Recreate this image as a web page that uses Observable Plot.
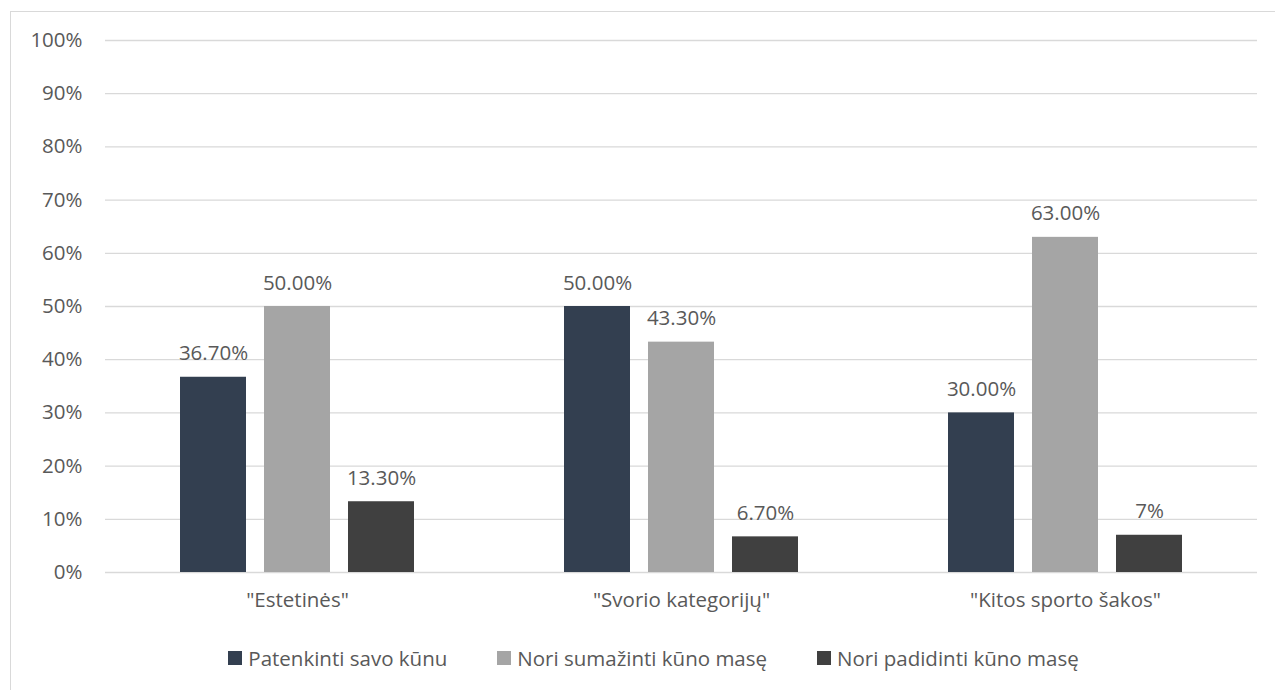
<!DOCTYPE html>
<html>
<head>
<meta charset="utf-8">
<script src="https://cdn.jsdelivr.net/npm/d3@7"></script>
<script src="https://cdn.jsdelivr.net/npm/@observablehq/plot@0.6"></script>
<style>
  html, body { margin: 0; padding: 0; background: #fff; overflow: hidden; }
  body { width: 1275px; height: 690px; position: relative; font-family: "Open Sans", sans-serif; color: #595959; }
  #frame { position: absolute; left: 10px; top: 11px; width: 1280px; height: 700px; border: 1px solid #d9d9d9; box-sizing: border-box; }
  #chart { position: absolute; left: 0; top: 0; }
  #legend { position: absolute; left: 0; top: 644px; width: 1275px; display: flex; justify-content: center; gap: 50px; font-size: 20.5px; padding-left: 32px; box-sizing: border-box; }
  #legend .item { display: flex; align-items: center; gap: 6px; }
  #legend .sw { width: 14px; height: 14px; display: inline-block; }
</style>
</head>
<body>
<div id="frame"></div>
<div id="chart"></div>
<div id="legend"></div>
<script>
const categories = ['"Estetinės"', '"Svorio kategorijų"', '"Kitos sporto šakos"'];
const series = ["Patenkinti savo kūnu", "Nori sumažinti kūno masę", "Nori padidinti kūno masę"];
const colors = ["#333f50", "#a5a5a5", "#404040"];
const patenkinti = [36.7, 50.0, 30.0];
const sumazinti = [50.0, 43.3, 63.0];
const padidinti = [13.3, 6.7, 7.0];
const patenkintiLabels = ["36.70%", "50.00%", "30.00%"];
const sumazintiLabels = ["50.00%", "43.30%", "63.00%"];
const padidintiLabels = ["13.30%", "6.70%", "7%"];
const yTicks = [0, 10, 20, 30, 40, 50, 60, 70, 80, 90, 100];

const valuesBySeries = [patenkinti, sumazinti, padidinti];
const labelsBySeries = [patenkintiLabels, sumazintiLabels, padidintiLabels];
const data = [];
categories.forEach((c, i) => {
  series.forEach((s, j) => {
    data.push({cat: c, series: s, value: valuesBySeries[j][i], label: labelsBySeries[j][i]});
  });
});

const chart = Plot.plot({
  width: 1275,
  height: 625,
  marginLeft: 104,
  marginRight: 18,
  marginTop: 40,
  marginBottom: 53,
  style: {fontFamily: "'Open Sans', sans-serif", fontSize: "20.5px", color: "#595959", background: "transparent"},
  fx: {domain: categories, padding: 0, label: null},
  x: {domain: series, paddingInner: 0.212, paddingOuter: 0.865, axis: null},
  y: {domain: [0, 100], label: null},
  color: {domain: series, range: colors},
  marks: [
    Plot.ruleY(yTicks, {y: d => d, stroke: "#d9d9d9", strokeWidth: 1.3}),
    Plot.axisY({ticks: yTicks, tickFormat: d => d + "%", tickSize: 0, tickPadding: 23, label: null, fill: "#595959", fontSize: 20.5}),
    Plot.barY(data, {fx: "cat", x: "series", y: "value", fill: "series"}),
    Plot.text(data, {fx: "cat", x: "series", y: "value", text: "label", lineAnchor: "bottom", dy: -17, fill: "#595959", fontSize: 20.5}),
    Plot.axisFx({anchor: "bottom", tickSize: 0, tickPadding: 20, label: null, fill: "#595959", fontSize: 20.5})
  ]
});
document.getElementById("chart").appendChild(chart);

const legend = document.getElementById("legend");
series.forEach((s, j) => {
  const item = document.createElement("div");
  item.className = "item";
  const sw = document.createElement("span");
  sw.className = "sw";
  sw.style.background = colors[j];
  const t = document.createElement("span");
  t.textContent = s;
  item.appendChild(sw);
  item.appendChild(t);
  legend.appendChild(item);
});
</script>
</body>
</html>
